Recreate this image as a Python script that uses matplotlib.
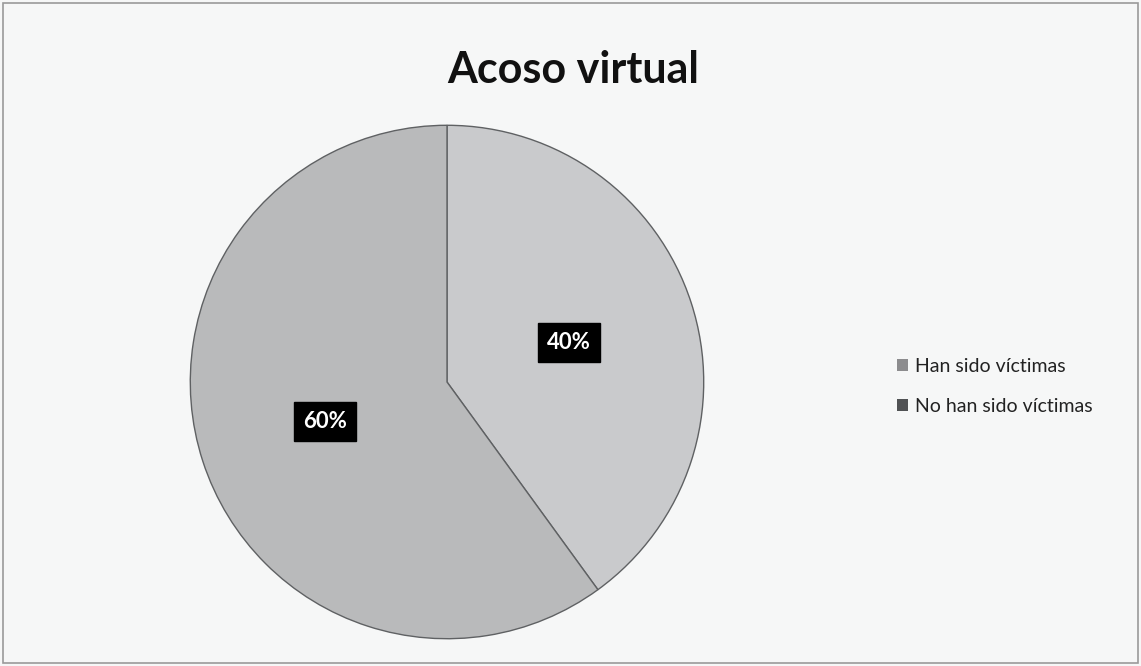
import matplotlib.pyplot as plt
from matplotlib.patches import Patch, Rectangle

# Chart data
categories = ["Han sido víctimas", "No han sido víctimas"]
values = [40, 60]
slice_colors = ["#c9cacc", "#b9babb"]
legend_colors = ["#8c8c8e", "#505254"]

plt.rcParams["font.family"] = ["Lato", "DejaVu Sans"]

fig = plt.figure(figsize=(11.41, 6.66), dpi=100)
fig.patch.set_facecolor("#f6f7f7")

# thin frame around the chart area
fig.patches.append(Rectangle((0.003, 0.004), 0.994, 0.992, transform=fig.transFigure,
                             fill=False, edgecolor="#9a9a9a", linewidth=1.2))

ax = fig.add_axes([189 / 1141, 26 / 666, 516 / 1141, 516 / 666])
wedges, texts, autotexts = ax.pie(
    values,
    colors=slice_colors,
    startangle=90,
    counterclock=False,
    autopct="%d%%",
    pctdistance=0.5,
    wedgeprops=dict(edgecolor="#5f6163", linewidth=1.0),
    textprops=dict(color="white", fontsize=16, fontweight="bold"),
)
for t in autotexts:
    t.set_bbox(dict(facecolor="black", edgecolor="black", boxstyle="square,pad=0.4"))
ax.set_xlim(-1.005, 1.005)
ax.set_ylim(-1.005, 1.005)
ax.set_aspect("equal")

fig.text(0.502, 0.895, "Acoso virtual", ha="center", va="center",
         fontsize=31, fontweight="bold", color="#111111")

handles = [Patch(facecolor=c, edgecolor="none") for c in legend_colors]
fig.legend(handles, categories, loc="center left", bbox_to_anchor=(0.771, 0.420),
           frameon=False, fontsize=14, handlelength=0.55, handleheight=0.55,
           handletextpad=0.35, labelspacing=1.2, labelcolor="#222222")

fig.savefig("out.png", dpi=100, facecolor=fig.get_facecolor())
plt.close(fig)
